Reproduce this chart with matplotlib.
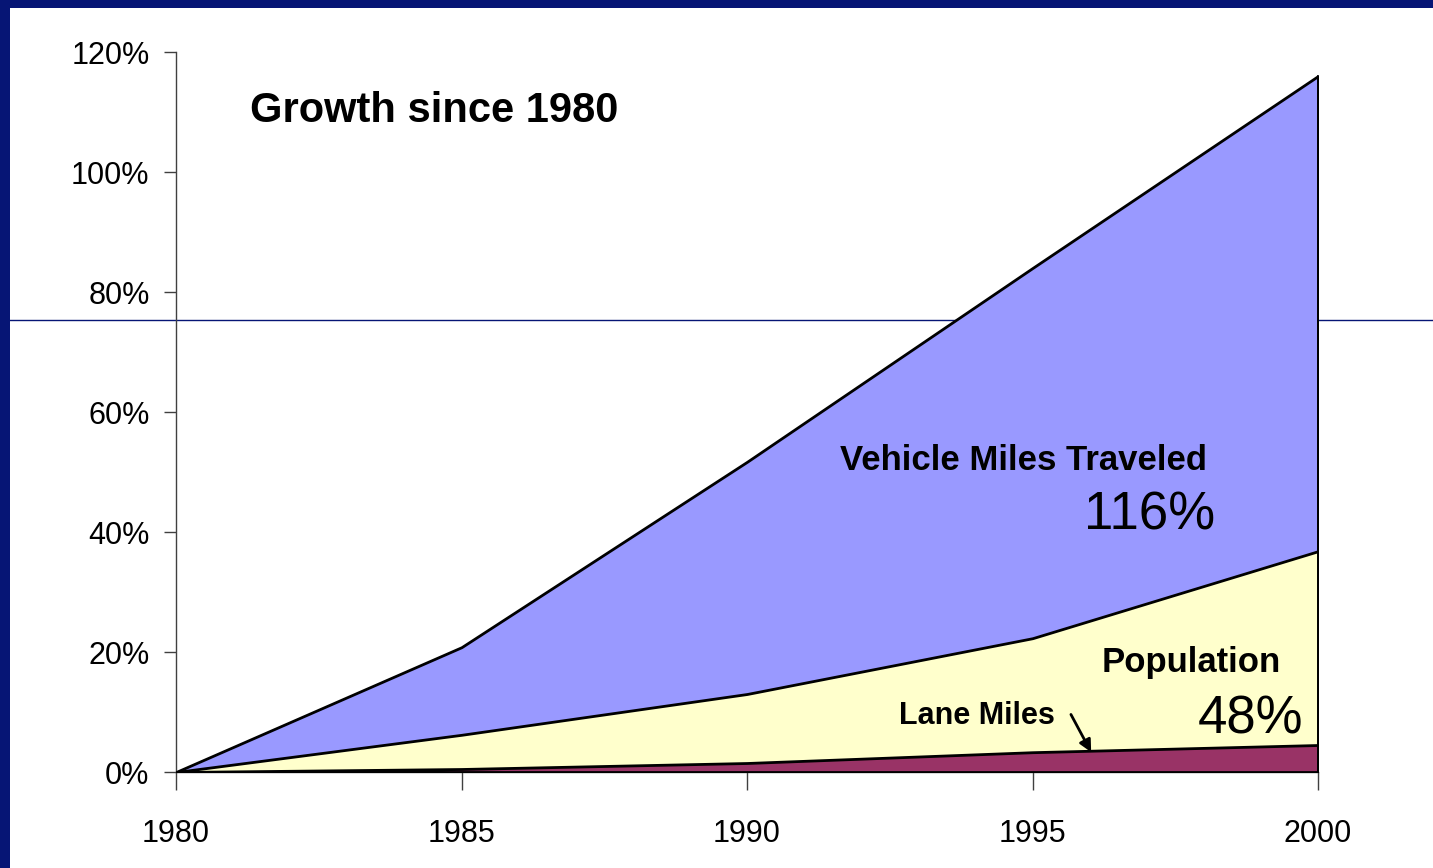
import matplotlib
matplotlib.use('Agg')
import matplotlib.pyplot as plt
from matplotlib.lines import Line2D
from matplotlib.patches import Rectangle

plt.rcParams['font.family'] = ['Liberation Sans', 'DejaVu Sans']

# Data (growth since 1980, fraction)
years = [1980, 1985, 1990, 1995, 2000]
vmt = [0.0, 0.208, 0.517, 0.84, 1.16]
population = [0.0, 0.062, 0.13, 0.223, 0.368]
lane_miles = [0.0, 0.005, 0.015, 0.033, 0.045]
y_ticks = [0, 0.2, 0.4, 0.6, 0.8, 1.0, 1.2]
y_ticklabels = ['0%', '20%', '40%', '60%', '80%', '100%', '120%']

color_vmt = '#9999FF'
color_pop = '#FFFFCC'
color_lane = '#993366'
navy = '#061575'

fig = plt.figure(figsize=(14.33, 8.68), dpi=100)
fig.patch.set_facecolor('white')

# slide frame
fig.add_artist(Rectangle((0, 1 - 8/868), 1, 8/868, transform=fig.transFigure,
                         facecolor=navy, edgecolor='none', zorder=-2))
fig.add_artist(Rectangle((0, 0), 10/1433, 1, transform=fig.transFigure,
                         facecolor=navy, edgecolor='none', zorder=-2))
fig.add_artist(Line2D([10/1433, 1], [1 - 320/868, 1 - 320/868], transform=fig.transFigure,
                      color=navy, linewidth=1, zorder=-1))

ax = fig.add_axes([176/1433, 1 - 772/868, (1318 - 176)/1433, (772 - 52)/868])
ax.set_facecolor('none')

ax.fill_between(years, 0, vmt, facecolor=color_vmt, edgecolor='black', linewidth=2, zorder=1)
ax.fill_between(years, 0, population, facecolor=color_pop, edgecolor='black', linewidth=2, zorder=2)
ax.fill_between(years, 0, lane_miles, facecolor=color_lane, edgecolor='black', linewidth=2, zorder=3)
ax.plot([years[-1], years[-1]], [0, vmt[-1]], color='black', linewidth=2, zorder=4)

ax.set_xlim(1980, 2000)
ax.set_ylim(0, 1.2)
ax.set_xticks(years)
ax.set_xticklabels([str(y) for y in years])
ax.set_yticks(y_ticks)
ax.set_yticklabels(y_ticklabels)
ax.tick_params(axis='both', labelsize=22, color='#404040', direction='out', width=1)
ax.tick_params(axis='y', length=9, pad=10)
ax.tick_params(axis='x', length=13, pad=21)
for side in ['top', 'right']:
    ax.spines[side].set_visible(False)
for side in ['left', 'bottom']:
    ax.spines[side].set_color('#404040')
    ax.spines[side].set_linewidth(1)

ax.text(1981.3, 1.102, 'Growth since 1980', fontsize=30, fontweight='bold', va='center', ha='left')
ax.text(1998.06, 0.52, 'Vehicle Miles Traveled', fontsize=25, fontweight='bold',
        va='center', ha='right', zorder=5)
ax.text(1998.2, 0.428, '116%', fontsize=38, va='center', ha='right', zorder=5)
ax.text(1999.35, 0.182, 'Population', fontsize=25, fontweight='bold', va='center', ha='right', zorder=5)
ax.text(1999.74, 0.087, '48%', fontsize=38, va='center', ha='right', zorder=5)
ax.text(1995.39, 0.093, 'Lane Miles', fontsize=22, fontweight='bold', va='center', ha='right', zorder=5)
ax.annotate('', xy=(1996.05, 0.029), xytext=(1995.65, 0.10),
            arrowprops=dict(arrowstyle='-|>', color='black', lw=2, mutation_scale=18), zorder=5)

fig.savefig('out.png', dpi=100)
